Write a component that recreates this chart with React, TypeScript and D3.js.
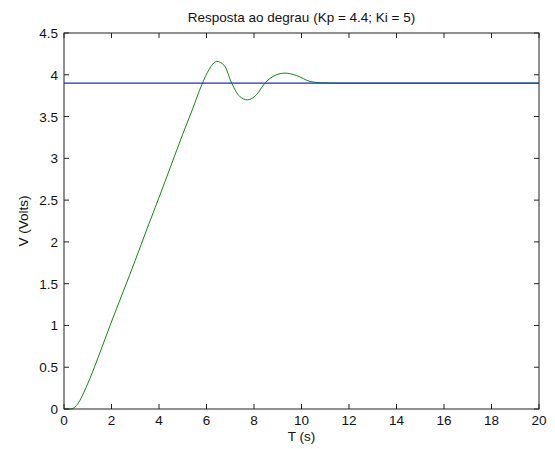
import React from "react";
import * as d3 from "d3";

// Step response of the PI-controlled system (time in s, voltage in V)
const timeS = [0, 0.3, 0.6, 0.9, 1.28, 1.6, 1.94, 2.5, 3.0, 3.5, 4.0, 4.5, 5.0, 5.4, 5.8, 6.1, 6.43, 6.75, 7.06, 7.4, 7.73, 8.1, 8.46, 8.8, 9.3, 9.8, 10.36, 10.8, 11.5, 20];
const voltage = [0, 0, 0.07, 0.24, 0.5, 0.74, 1.0, 1.41, 1.78, 2.16, 2.53, 2.91, 3.29, 3.58, 3.88, 4.06, 4.16, 4.11, 3.9, 3.74, 3.7, 3.76, 3.9, 3.98, 4.02, 3.99, 3.92, 3.905, 3.9, 3.9];
const setpoint = 3.9;

const xTicks = [0, 2, 4, 6, 8, 10, 12, 14, 16, 18, 20];
const yTicks = [0, 0.5, 1, 1.5, 2, 2.5, 3, 3.5, 4, 4.5];

const W = 555;
const H = 449;
const M = { left: 64, right: 16, top: 33, bottom: 40 };

export default function App() {
  const x = d3.scaleLinear().domain([0, 20]).range([M.left, W - M.right]);
  const y = d3.scaleLinear().domain([0, 4.5]).range([H - M.bottom, M.top]);

  const pts: [number, number][] = timeS.map((t, i) => [t, voltage[i]]);
  const line = d3
    .line<[number, number]>()
    .x((d) => x(d[0]))
    .y((d) => y(d[1]))
    .curve(d3.curveMonotoneX);

  const x0 = x(0);
  const x1 = x(20);
  const y0 = y(0);
  const y1 = y(4.5);
  const tl = 5;
  const fs = 13.5;
  const font = "Liberation Sans, Arial, sans-serif";

  return (
    <svg
      width={W}
      height={H}
      style={{ position: "absolute", left: 0, top: 0, background: "#fff" }}
      fontFamily={font}
    >
      <rect x={0} y={0} width={W} height={H} fill="#fff" />
      <path d={line(pts) || ""} fill="none" stroke="#138a13" strokeWidth={1} />
      <line x1={x0} x2={x1} y1={y(setpoint)} y2={y(setpoint)} stroke="#1c2fbf" strokeWidth={1.2} />

      {/* box */}
      <rect x={x0} y={y1} width={x1 - x0} height={y0 - y1} fill="none" stroke="#222" strokeWidth={1} />

      {xTicks.map((t) => (
        <g key={"x" + t}>
          <line x1={x(t)} x2={x(t)} y1={y0} y2={y0 - tl} stroke="#222" />
          <line x1={x(t)} x2={x(t)} y1={y1} y2={y1 + tl} stroke="#222" />
          <text x={x(t)} y={y0 + 16} textAnchor="middle" fontSize={fs} fill="#111">
            {t}
          </text>
        </g>
      ))}
      {yTicks.map((v) => (
        <g key={"y" + v}>
          <line x1={x0} x2={x0 + tl} y1={y(v)} y2={y(v)} stroke="#222" />
          <line x1={x1} x2={x1 - tl} y1={y(v)} y2={y(v)} stroke="#222" />
          <text x={x0 - 6} y={y(v) + 5} textAnchor="end" fontSize={fs} fill="#111">
            {v}
          </text>
        </g>
      ))}

      <text x={(x0 + x1) / 2} y={22} textAnchor="middle" fontSize={fs} fill="#111">
        Resposta ao degrau (Kp = 4.4; Ki = 5)
      </text>
      <text x={(x0 + x1) / 2} y={H - 8} textAnchor="middle" fontSize={fs} fill="#111">
        T (s)
      </text>
      <text
        transform={`translate(28, ${(y0 + y1) / 2}) rotate(-90)`}
        textAnchor="middle"
        fontSize={fs}
        fill="#111"
      >
        V (Volts)
      </text>
    </svg>
  );
}
